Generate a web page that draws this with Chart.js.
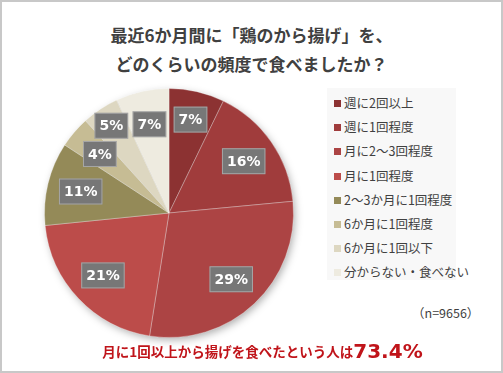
<!DOCTYPE html>
<html>
<head>
<meta charset="utf-8">
<script src="https://cdn.jsdelivr.net/npm/chart.js@4.4.0/dist/chart.umd.min.js"></script>
<style>
  body { margin: 0; background: #fff; }
  #wrap {
    position: relative; width: 503px; height: 373px; box-sizing: border-box;
    border: 2px solid #c8c8c8; background: #fff; overflow: hidden;
    font-family: "Noto Sans CJK JP", "Noto Sans", sans-serif;
  }
  #title {
    position: absolute; left: 0; top: 18px; width: 499px; text-align: center;
    font-size: 17px; font-weight: bold; color: #404040; line-height: 29px;
  }
  #grafica { position: absolute; left: 25px; top: 69px; }
  #leyenda {
    position: absolute; left: 325px; top: 86px; width: 129px; height: 192px;
    background: #f8f8f8;
  }
  .item { position: absolute; left: 7px; font-size: 12.5px; color: #404040; white-space: nowrap; }
  .item i { display: inline-block; width: 7px; height: 7px; margin-right: 3px; vertical-align: 1px; }
  #n { position: absolute; left: 410px; top: 301px; font-size: 12.5px; color: #404040; }
  #pie {
    position: absolute; left: 18px; top: 337px; width: 485px; text-align: center;
    color: #c0141a; font-weight: bold; font-size: 13.5px;
  }
  #pie b { font-size: 20px; font-family: "DejaVu Sans", sans-serif; vertical-align: -1px; }
</style>
</head>
<body>
<div id="wrap">
  <div id="title">最近6か月間に「鶏のから揚げ」を、<br>どのくらいの頻度で食べましたか？</div>
  <canvas id="grafica" width="284" height="284"></canvas>
  <div id="leyenda"></div>
  <div id="n">（n=9656）</div>
  <div id="pie">月に1回以上から揚げを食べたという人は<b>73.4%</b></div>
</div>
<script>
// Categorías y valores (%)
const categorias = ['週に2回以上', '週に1回程度', '月に2～3回程度', '月に1回程度',
  '2～3か月に1回程度', '6か月に1回程度', '6か月に1回以下', '分からない・食べない'];
const valores = [7.2, 16.3, 29.0, 20.9, 10.8, 4.1, 4.8, 6.9];
const etiquetas = ['7%', '16%', '29%', '21%', '11%', '4%', '5%', '7%'];
const colores = ['#8c3232', '#a03c3c', '#ac4444', '#bc4c4a', '#948a58', '#c6bc94', '#ddd7c1', '#eeebe0'];

// Leyenda en HTML a partir de los mismos arreglos
const leyenda = document.getElementById('leyenda');
categorias.forEach((c, i) => {
  const d = document.createElement('div');
  d.className = 'item';
  d.style.top = (5 + i * 24.2) + 'px';
  d.innerHTML = '<i style="background:' + colores[i] + '"></i>' + c;
  leyenda.appendChild(d);
});

// Sombra bajo el círculo
const sombra = {
  id: 'sombra',
  beforeDatasetsDraw(chart) {
    const arc = chart.getDatasetMeta(0).data[0];
    const ctx = chart.ctx;
    ctx.save();
    ctx.shadowColor = 'rgba(0,0,0,0.35)';
    ctx.shadowBlur = 9;
    ctx.shadowOffsetX = 2;
    ctx.shadowOffsetY = 3;
    ctx.fillStyle = '#888';
    ctx.beginPath();
    ctx.arc(arc.x, arc.y, arc.outerRadius - 1, 0, Math.PI * 2);
    ctx.fill();
    ctx.restore();
  }
};

// Etiquetas grises con el porcentaje
const rotulos = {
  id: 'rotulos',
  afterDatasetsDraw(chart) {
    const ctx = chart.ctx;
    ctx.save();
    ctx.font = 'bold 14px "DejaVu Sans"';
    ctx.textAlign = 'center';
    ctx.textBaseline = 'middle';
    chart.getDatasetMeta(0).data.forEach((arc, i) => {
      const ang = (arc.startAngle + arc.endAngle) / 2;
      const f = i === 6 ? 0.84 : (i === 0 ? 0.77 : 0.73);
      const x = arc.x + Math.cos(ang) * arc.outerRadius * f;
      const y = arc.y + Math.sin(ang) * arc.outerRadius * f;
      const w = ctx.measureText(etiquetas[i]).width + 10;
      ctx.fillStyle = '#777777';
      ctx.fillRect(x - w / 2, y - 13, w, 26);
      ctx.strokeStyle = 'rgba(255,255,255,0.35)';
      ctx.lineWidth = 1;
      ctx.strokeRect(x - w / 2 + 0.5, y - 12.5, w - 1, 25);
      ctx.fillStyle = '#fff';
      ctx.fillText(etiquetas[i], x, y + 1);
    });
    ctx.restore();
  }
};

new Chart(document.getElementById('grafica'), {
  type: 'pie',
  data: {
    labels: categorias,
    datasets: [{
      data: valores,
      backgroundColor: colores,
      borderColor: 'rgba(255,255,255,0.3)',
      borderWidth: 1
    }]
  },
  options: {
    responsive: false,
    animation: false,
    layout: { padding: 17 },
    plugins: { legend: { display: false }, tooltip: { enabled: false } }
  },
  plugins: [sombra, rotulos]
});
</script>
</body>
</html>
